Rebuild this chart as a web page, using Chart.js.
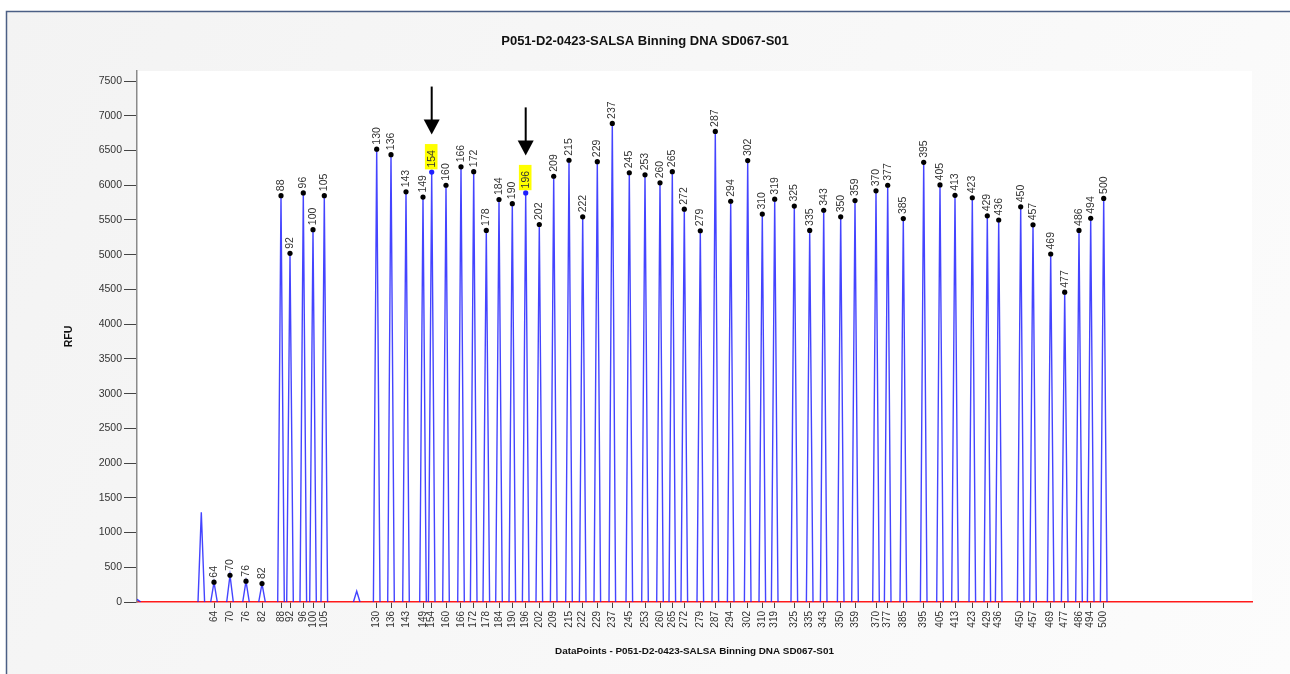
<!DOCTYPE html>
<html>
<head>
<meta charset="utf-8">
<script src="https://cdn.jsdelivr.net/npm/chart.js@4.4.1/dist/chart.umd.min.js"></script>
<style>
  html, body { margin: 0; padding: 0; background: #fff; }
  #wrap { width: 1290px; height: 674px; }
</style>
</head>
<body>
<div id="wrap"><canvas id="trace"></canvas></div>
<script>
// Sized peaks: fragment size (bp), position (data points), height (RFU)
const peakSize = [64, 70, 76, 82, 88, 92, 96, 100, 105, 130, 136, 143, 149, 154, 160, 166, 172, 178, 184, 190,
  196, 202, 209, 215, 222, 229, 237, 245, 253, 260, 265, 272, 279, 287, 294, 302, 310, 319, 325, 335,
  343, 350, 359, 370, 377, 385, 395, 405, 413, 423, 429, 436, 450, 457, 469, 477, 486, 494, 500];
const peakPos = [77, 93, 109, 125, 144, 153, 166.3, 176, 187.3, 239.7, 254, 269, 286, 294.7, 309, 324, 336.7, 349.3, 362, 375.3,
  388.7, 402.3, 416.7, 432, 445.7, 460.3, 475.3, 492.3, 508, 523, 535.3, 547.3, 563.3, 578.3, 593.7, 610.7, 625.3, 637.7, 657.3, 672.7,
  686.7, 703.7, 718, 739, 750.7, 766.3, 786.7, 803, 818, 835.3, 850.3, 861.7, 883.7, 896, 913.7, 927.7, 942, 953.7, 966.7];
const peakRfu = [285, 385, 300, 265, 5850, 5020, 5890, 5360, 5850, 6520, 6440, 5905, 5830, 6190, 6000, 6265, 6195, 5350, 5795, 5735,
  5890, 5435, 6130, 6360, 5545, 6340, 6890, 6180, 6150, 6035, 6195, 5655, 5345, 6775, 5770, 6355, 5585, 5800, 5700, 5350,
  5640, 5545, 5780, 5920, 6000, 5520, 6330, 6005, 5855, 5820, 5560, 5500, 5690, 5430, 5010, 4460, 5350, 5525, 5810];

// Unsized peaks in the trace
const otherPos = [0.5, 64.3, 219.7];
const otherRfu = [35, 1290, 155];

// Peaks marked with an arrow
const highlighted = [154, 196];

const yTicks = [0, 500, 1000, 1500, 2000, 2500, 3000, 3500, 4000, 4500, 5000, 5500, 6000, 6500, 7000, 7500];

const titleText = 'P051-D2-0423-SALSA Binning DNA SD067-S01';
const FONT = '"Liberation Sans", Arial, sans-serif';
Chart.defaults.font.family = FONT;

// trace: each peak drawn as a narrow spike down to the baseline
const halfBase = 3.3;
const peaks = peakPos.map((p, i) => ({ x: p, y: peakRfu[i] }))
  .concat(otherPos.map((p, i) => ({ x: p, y: otherRfu[i] })))
  .sort((a, b) => a.x - b.x);
const trace = [];
peaks.forEach(pk => {
  trace.push({ x: pk.x - halfBase, y: 0 }, { x: pk.x, y: pk.y }, { x: pk.x + halfBase, y: 0 });
});

const dots = peakPos.map((p, i) => ({ x: p, y: peakRfu[i] }));
const dotColors = peakSize.map(s => highlighted.includes(s) ? '#1f1fff' : '#000');

const frame = {
  id: 'frame',
  beforeDraw(chart) {
    const { ctx, chartArea: a, width, height } = chart;
    ctx.save();
    ctx.fillStyle = '#fff';
    ctx.fillRect(0, 0, width, height);
    const g = ctx.createLinearGradient(6, 11, width, height);
    g.addColorStop(0, '#f3f3f3');
    g.addColorStop(1, '#fcfcfc');
    ctx.fillStyle = g;
    ctx.fillRect(6, 11, width - 6, height - 11);
    ctx.strokeStyle = '#4b5f85';
    ctx.lineWidth = 1.5;
    ctx.beginPath();
    ctx.moveTo(6.5, height);
    ctx.lineTo(6.5, 11.5);
    ctx.lineTo(width, 11.5);
    ctx.stroke();
    ctx.fillStyle = '#fff';
    ctx.fillRect(a.left, a.top, a.right - a.left, a.bottom - a.top);
    ctx.restore();
  }
};

const peakLabels = {
  id: 'peakLabels',
  afterDatasetsDraw(chart) {
    const { ctx, scales: { x, y } } = chart;
    ctx.save();
    ctx.font = '10.5px ' + FONT;
    peakSize.forEach((s, i) => {
      const px = x.getPixelForValue(peakPos[i]);
      const py = y.getPixelForValue(peakRfu[i]);
      if (highlighted.includes(s)) {
        ctx.fillStyle = '#ffff00';
        ctx.fillRect(px - 6.8, py - 28, 12.6, 25.3);
      }
      ctx.save();
      ctx.translate(px, py - 4.5);
      ctx.rotate(-Math.PI / 2);
      ctx.fillStyle = '#333';
      ctx.textAlign = 'left';
      ctx.textBaseline = 'middle';
      ctx.fillText(String(s), 0, 0);
      ctx.restore();
    });
    // arrows above the marked peaks
    ctx.fillStyle = '#000';
    highlighted.forEach(s => {
      const i = peakSize.indexOf(s);
      const px = x.getPixelForValue(peakPos[i]);
      const tip = y.getPixelForValue(peakRfu[i]) - 37.5;
      ctx.fillRect(px - 1, tip - 48, 2, 34);
      ctx.beginPath();
      ctx.moveTo(px - 8, tip - 15);
      ctx.lineTo(px + 8, tip - 15);
      ctx.lineTo(px, tip);
      ctx.closePath();
      ctx.fill();
    });
    ctx.restore();
  }
};

new Chart(document.getElementById('trace'), {
  type: 'line',
  data: {
    datasets: [
      {
        data: dots,
        showLine: false,
        pointRadius: 2.6,
        pointBackgroundColor: dotColors,
        pointBorderWidth: 0,
        order: 0
      },
      {
        data: trace,
        borderColor: 'rgba(35,35,255,0.85)',
        borderWidth: 1.4,
        pointRadius: 0,
        tension: 0,
        segment: {
          borderColor: c => (c.p0.parsed.y === 0 && c.p1.parsed.y === 0) ? 'transparent' : undefined
        },
        order: 1
      }
    ]
  },
  options: {
    responsive: true,
    maintainAspectRatio: false,
    animation: false,
    events: [],
    layout: { padding: 0 },
    plugins: {
      legend: { display: false },
      tooltip: { enabled: false },
      title: {
        display: true,
        text: titleText,
        color: '#111',
        font: { size: 13, weight: 'bold' },
        padding: { top: 33.2, bottom: 22.2 }
      }
    },
    scales: {
      x: {
        type: 'linear',
        min: 0,
        max: 1115,
        afterBuildTicks: s => { s.ticks = peakPos.map(v => ({ value: v })); },
        afterFit: s => { s.height = 72; },
        grid: { drawOnChartArea: false, tickLength: 6, color: '#444' },
        border: { color: '#ff1a1a', width: 1.5 },
        ticks: {
          autoSkip: false,
          minRotation: 90,
          maxRotation: 90,
          padding: 3,
          color: '#333',
          font: { size: 10 },
          callback: (v, i) => String(peakSize[i])
        },
        title: {
          display: true,
          text: 'DataPoints - ' + titleText,
          color: '#111',
          font: { size: 9.9, weight: 'bold' },
          padding: { top: 0, bottom: 17 }
        }
      },
      y: {
        min: 0,
        max: 7645,
        afterBuildTicks: s => { s.ticks = yTicks.map(v => ({ value: v })); },
        afterFit: s => { s.width = 137; },
        grid: { drawOnChartArea: false, tickLength: 13, color: '#444' },
        border: { color: '#8a8a8a', width: 1.5 },
        ticks: {
          padding: 2,
          color: '#333',
          font: { size: 10.5 },
          callback: v => String(v)
        },
        title: {
          display: true,
          text: 'RFU',
          color: '#111',
          font: { size: 10.5, weight: 'bold' },
          padding: { top: 62.5, bottom: 0 }
        }
      },
      // empty right-hand strip so the plot stops short of the frame edge
      yRight: {
        position: 'right',
        min: 0,
        max: 7645,
        afterFit: s => { s.width = 38; },
        grid: { display: false },
        border: { display: false },
        ticks: { display: false }
      }
    }
  },
  plugins: [frame, peakLabels]
});
</script>
</body>
</html>
